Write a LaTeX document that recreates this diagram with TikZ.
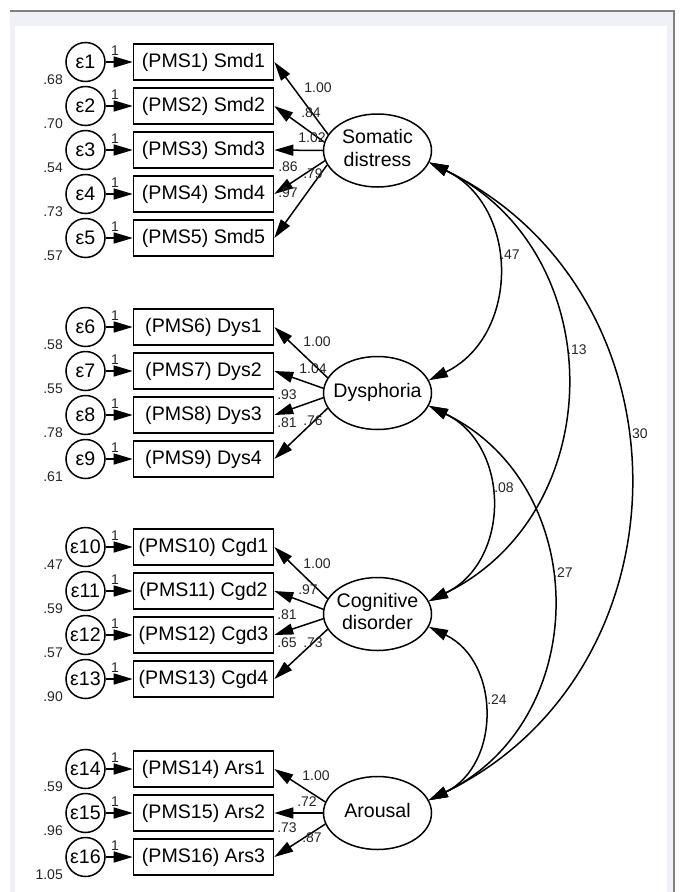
\documentclass[tikz,border=0pt]{standalone}
\usepackage{fontspec}
\setmainfont{Liberation Sans}
\usetikzlibrary{arrows.meta,shapes.geometric}
\definecolor{framebg}{RGB}{240,241,247}
\definecolor{frameline}{RGB}{128,128,132}
\newcommand{\bigf}{\fontsize{19.6}{22.5}\selectfont}
\newcommand{\smallf}{\fontsize{14}{15}\selectfont}
\newcommand{\lattxt}[1]{\makebox[0pt]{\begin{tabular}{@{}c@{}}#1\end{tabular}}}
\begin{document}
\begin{tikzpicture}[x=1pt,y=-1pt,
  box/.style={draw, line width=1.6pt, minimum width=140pt, minimum height=36pt, inner sep=0pt, font=\bigf},
  err/.style={draw, circle, line width=1.5pt, minimum size=39pt, inner sep=0pt, font=\bigf},
  lat/.style={draw, ellipse, line width=1.5pt, minimum width=108pt, minimum height=73pt, inner sep=0pt, font=\bigf},
  lbl/.style={font=\smallf, inner sep=0pt, text=black!85},
  arr/.style={line width=1.5pt, -{Triangle[length=19pt,width=11pt]}},
  cov/.style={line width=1.5pt, {Triangle[length=19pt,width=11pt]}-{Triangle[length=19pt,width=11pt]}},
]
\useasboundingbox (0,0) rectangle (682,892);
\fill[white] (0,0) rectangle (682,892);
\fill[framebg] (10,11) rectangle (674,892);
\fill[white] (15,26) rectangle (667,892);
\draw[frameline, line width=1.2pt] (10,11) -- (674,11) -- (674,892);

% observed variables and errors
\foreach \i/\y/\t/\v in {1/62/Smd1/.68, 2/106/Smd2/.70, 3/150/Smd3/.54, 4/194/Smd4/.73, 5/238/Smd5/.57,
  6/327/Dys1/.58, 7/371/Dys2/.55, 8/415/Dys3/.78, 9/459/Dys4/.61,
  10/547/Cgd1/.47, 11/591/Cgd2/.59, 12/635/Cgd3/.57, 13/679/Cgd4/.90,
  14/769/Ars1/.59, 15/813/Ars2/.96, 16/857/Ars3/1.05}{
  \node[box] (b\i) at (203.5,\y) {(PMS\i) \t};
  \node[err] (e\i) at (85.5,\y) {ε\i};
  \node[lbl] (one\i) at (115,\y-11) {1};
  \node[lbl, anchor=east] (var\i) at (63,\y+18) {\v};
  \draw[arr] (e\i) -- (b\i);
}

% latent variables
\node[lat] (som) at (377.5,150.5) {\lattxt{Somatic\\distress}};
\node[lat] (dys) at (377.5,393) {\lattxt{Dysphoria}};
\node[lat] (cog) at (377.5,614) {\lattxt{Cognitive\\disorder}};
\node[lat] (aro) at (377.5,813) {\lattxt{Arousal}};

% loadings
\foreach \a/\b in {162/1,171/2,180/3,191/4,196/5} \draw[arr] (som.\a) -- (b\b.east);
\foreach \a/\b in {163/6,175/7,185/8,197/9} \draw[arr] (dys.\a) -- (b\b.east);
\foreach \a/\b in {163/10,175/11,185/12,197/13} \draw[arr] (cog.\a) -- (b\b.east);
\foreach \a/\b in {168/14,180/15,192/16} \draw[arr] (aro.\a) -- (b\b.east);

% loading labels
\foreach \n/\x/\y/\t in {s1/318/88/1.00, s2/311/113/.84, s3/312/138/1.02, s4/288/167/.86, s5/313/174/.79, s6/288/193/.97,
  d1/317/342/1.00, d2/313/369/1.04, d3/287/395/.93, d4/287/423/.81, d5/313/421/.76,
  c1/317/564/1.00, c2/308/590/.97, c3/287/615/.81, c4/287/643/.65, c5/313/643/.73,
  a1/316/776/1.00, a2/307/802/.72, a3/287/828/.73, a4/312/838/.87}{
  \node[lbl] (ll\n) at (\x,\y) {\t};
}

% covariances
\draw[cov] (som.-13) .. controls +(91,44) and +(91,-44) .. (dys.14);
\draw[cov] (som.-13) .. controls +(182,89) and +(182,-89) .. (cog.14);
\draw[cov] (som.-13) .. controls +(266,130) and +(266,-130) .. (aro.14);
\draw[cov] (dys.-14) .. controls +(82,40) and +(82,-40) .. (cog.14);
\draw[cov] (dys.-14) .. controls +(164,80) and +(164,-80) .. (aro.14);
\draw[cov] (cog.-14) .. controls +(72,35) and +(72,-35) .. (aro.14);

\node[lbl] (c47) at (510,255) {.47};
\node[lbl] (c13) at (577,350) {.13};
\node[lbl] (c30) at (638,434) {.30};
\node[lbl] (c08) at (504,488) {.08};
\node[lbl] (c27) at (563,573) {.27};
\node[lbl] (c24) at (497,700) {.24};
\end{tikzpicture}
\end{document}
